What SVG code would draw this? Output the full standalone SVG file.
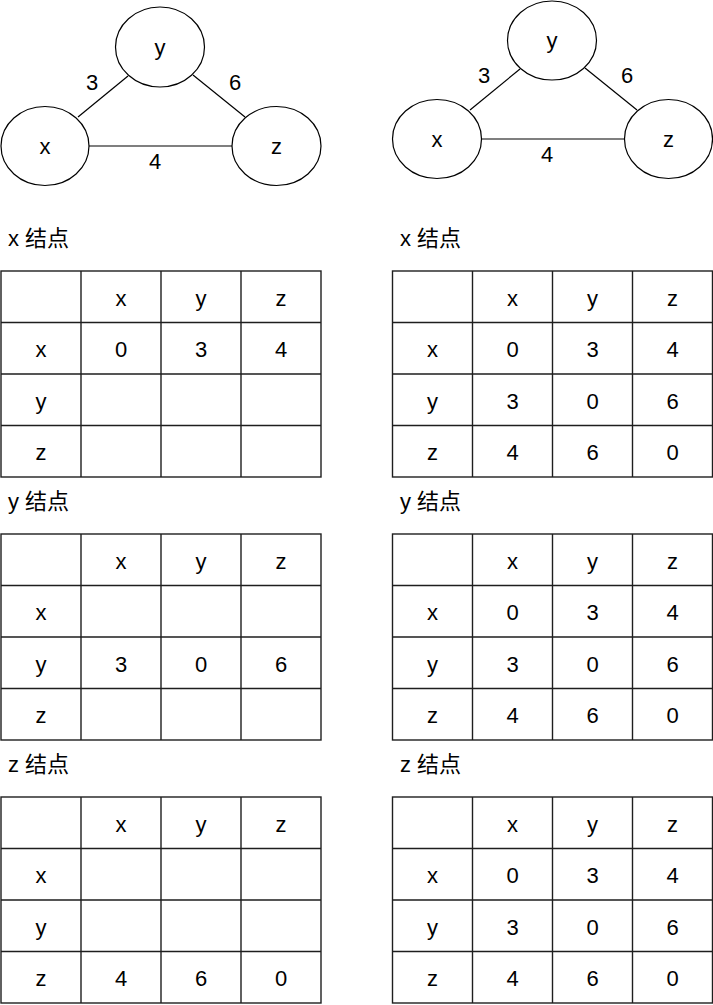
<svg xmlns="http://www.w3.org/2000/svg" width="713" height="1005" viewBox="0 0 713 1005">
<style>
text{font-family:"Liberation Sans","Noto Sans CJK SC",sans-serif;font-size:22px;fill:#000}
.c{text-anchor:middle}
.node{fill:#fff;stroke:#000;stroke-width:1.2}
.edge{stroke:#000;stroke-width:1.2;fill:none}
.grid{stroke:#1e1e1e;stroke-width:1.4;fill:none}
</style>
<rect width="713" height="1005" fill="#fff"/>

<!-- Left graph -->
<g id="left-edges">
<line class="edge" x1="78" y1="117" x2="128" y2="76"/>
<line class="edge" x1="193" y1="75" x2="245" y2="117"/>
<line class="edge" x1="89" y1="146" x2="232" y2="146"/>
<text class="c" x="92" y="90">3</text>
<text class="c" x="235" y="90">6</text>
<text class="c" x="155" y="169">4</text>
</g>
<g id="L-node-x"><ellipse class="node" cx="45" cy="146" rx="44" ry="39.5"/><text class="c" x="45" y="154">x</text></g>
<g id="L-node-y"><ellipse class="node" cx="160" cy="47" rx="44.5" ry="40"/><text class="c" x="160" y="55">y</text></g>
<g id="L-node-z"><ellipse class="node" cx="276.5" cy="146" rx="44.5" ry="39.5"/><text class="c" x="276.5" y="154">z</text></g>

<!-- Right graph -->
<g id="right-edges">
<line class="edge" x1="470" y1="110" x2="520" y2="69"/>
<line class="edge" x1="585" y1="68" x2="637" y2="110"/>
<line class="edge" x1="481" y1="139" x2="624" y2="139"/>
<text class="c" x="484" y="83">3</text>
<text class="c" x="627" y="83">6</text>
<text class="c" x="547" y="162">4</text>
</g>
<g id="R-node-x"><ellipse class="node" cx="437" cy="139" rx="44.5" ry="39.5"/><text class="c" x="437" y="147">x</text></g>
<g id="R-node-y"><ellipse class="node" cx="552" cy="40.5" rx="44.5" ry="39.5"/><text class="c" x="552" y="48">y</text></g>
<g id="R-node-z"><ellipse class="node" cx="668.5" cy="139" rx="44" ry="39.5"/><text class="c" x="668.5" y="147">z</text></g>

<defs>
<g id="gridL">
<rect class="grid" x="1" y="0" width="320" height="206"/>
<path class="grid" d="M81 0V206M161 0V206M241 0V206M1 51.5H321M1 103H321M1 154.5H321"/>
</g>
<g id="gridR">
<rect class="grid" x="392.5" y="0" width="320" height="206"/>
<path class="grid" d="M472.5 0V206M552.5 0V206M632.5 0V206M392.5 51.5H712.5M392.5 103H712.5M392.5 154.5H712.5"/>
</g>
</defs>

<!-- Left x table -->
<g id="L-table-x">
<text x="8" y="245.5">x 结点</text>
<use href="#gridL" y="271"/>
<text class="c" x="121" y="305.5">x</text><text class="c" x="201" y="305.5">y</text><text class="c" x="281" y="305.5">z</text>
<text class="c" x="41" y="357">x</text><text class="c" x="121" y="357">0</text><text class="c" x="201" y="357">3</text><text class="c" x="281" y="357">4</text>
<text class="c" x="41" y="408.5">y</text>
<text class="c" x="41" y="460">z</text>
</g>

<!-- Left y table -->
<g id="L-table-y">
<text x="8" y="508.5">y 结点</text>
<use href="#gridL" y="534"/>
<text class="c" x="121" y="568.5">x</text><text class="c" x="201" y="568.5">y</text><text class="c" x="281" y="568.5">z</text>
<text class="c" x="41" y="620">x</text>
<text class="c" x="41" y="671.5">y</text><text class="c" x="121" y="671.5">3</text><text class="c" x="201" y="671.5">0</text><text class="c" x="281" y="671.5">6</text>
<text class="c" x="41" y="723">z</text>
</g>

<!-- Left z table -->
<g id="L-table-z">
<text x="8" y="771.5">z 结点</text>
<use href="#gridL" y="797"/>
<text class="c" x="121" y="831.5">x</text><text class="c" x="201" y="831.5">y</text><text class="c" x="281" y="831.5">z</text>
<text class="c" x="41" y="883">x</text>
<text class="c" x="41" y="934.5">y</text>
<text class="c" x="41" y="986">z</text><text class="c" x="121" y="986">4</text><text class="c" x="201" y="986">6</text><text class="c" x="281" y="986">0</text>
</g>

<!-- Right x table -->
<g id="R-table-x">
<text x="400" y="245.5">x 结点</text>
<use href="#gridR" y="271"/>
<text class="c" x="512.5" y="305.5">x</text><text class="c" x="592.5" y="305.5">y</text><text class="c" x="672.5" y="305.5">z</text>
<text class="c" x="432.5" y="357">x</text><text class="c" x="512.5" y="357">0</text><text class="c" x="592.5" y="357">3</text><text class="c" x="672.5" y="357">4</text>
<text class="c" x="432.5" y="408.5">y</text><text class="c" x="512.5" y="408.5">3</text><text class="c" x="592.5" y="408.5">0</text><text class="c" x="672.5" y="408.5">6</text>
<text class="c" x="432.5" y="460">z</text><text class="c" x="512.5" y="460">4</text><text class="c" x="592.5" y="460">6</text><text class="c" x="672.5" y="460">0</text>
</g>

<!-- Right y table -->
<g id="R-table-y">
<text x="400" y="508.5">y 结点</text>
<use href="#gridR" y="534"/>
<text class="c" x="512.5" y="568.5">x</text><text class="c" x="592.5" y="568.5">y</text><text class="c" x="672.5" y="568.5">z</text>
<text class="c" x="432.5" y="620">x</text><text class="c" x="512.5" y="620">0</text><text class="c" x="592.5" y="620">3</text><text class="c" x="672.5" y="620">4</text>
<text class="c" x="432.5" y="671.5">y</text><text class="c" x="512.5" y="671.5">3</text><text class="c" x="592.5" y="671.5">0</text><text class="c" x="672.5" y="671.5">6</text>
<text class="c" x="432.5" y="723">z</text><text class="c" x="512.5" y="723">4</text><text class="c" x="592.5" y="723">6</text><text class="c" x="672.5" y="723">0</text>
</g>

<!-- Right z table -->
<g id="R-table-z">
<text x="400" y="771.5">z 结点</text>
<use href="#gridR" y="797"/>
<text class="c" x="512.5" y="831.5">x</text><text class="c" x="592.5" y="831.5">y</text><text class="c" x="672.5" y="831.5">z</text>
<text class="c" x="432.5" y="883">x</text><text class="c" x="512.5" y="883">0</text><text class="c" x="592.5" y="883">3</text><text class="c" x="672.5" y="883">4</text>
<text class="c" x="432.5" y="934.5">y</text><text class="c" x="512.5" y="934.5">3</text><text class="c" x="592.5" y="934.5">0</text><text class="c" x="672.5" y="934.5">6</text>
<text class="c" x="432.5" y="986">z</text><text class="c" x="512.5" y="986">4</text><text class="c" x="592.5" y="986">6</text><text class="c" x="672.5" y="986">0</text>
</g>
</svg>
